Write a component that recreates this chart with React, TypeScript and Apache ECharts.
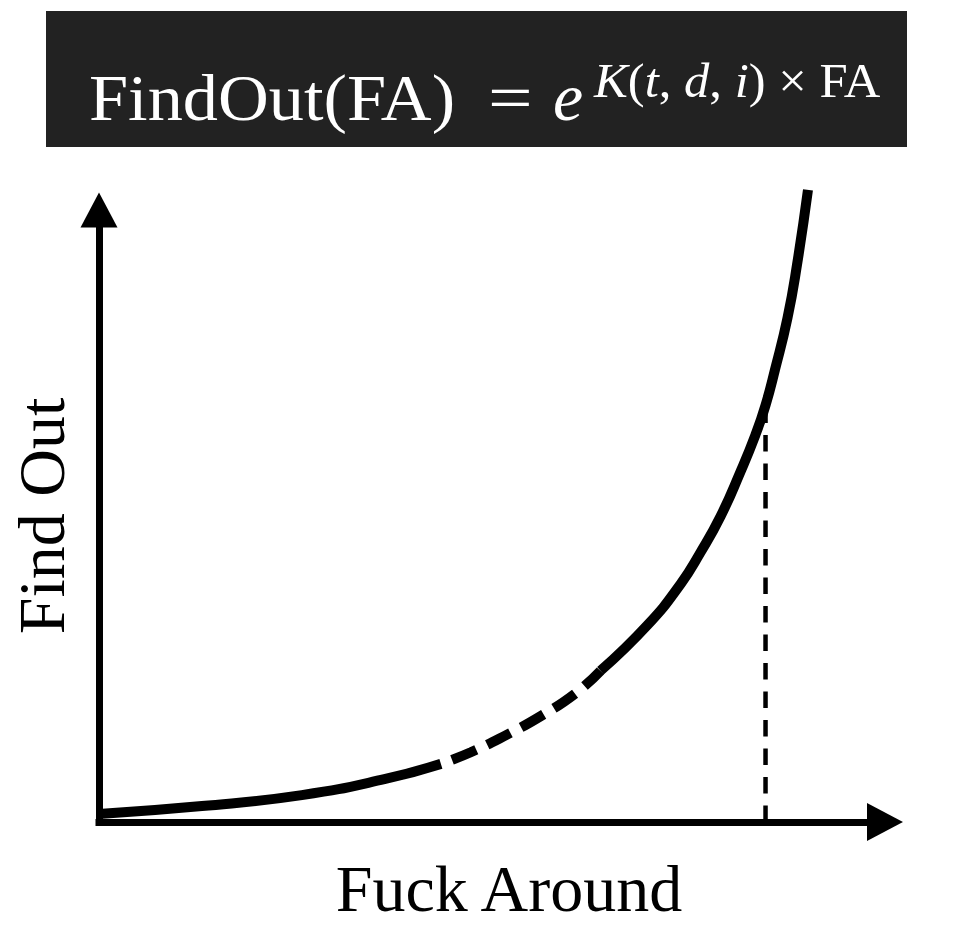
import React, { useEffect, useRef } from "react";
import * as echarts from "echarts";

// Curve (x: "Fuck Around" 0..100, y: "Find Out" 0..100)
const curveSolidStart: number[][] = [
  [0, 1.3], [13.1, 2.6], [25.8, 4.4], [36.3, 7.0], [43.5, 9.5],
];
const curveDashed: number[][] = [
  [43.5, 9.5], [47.3, 11.4], [51.8, 14.2], [56.2, 17.3], [60.7, 21.1], [63.8, 24.7],
];
const curveSolidEnd: number[][] = [
  [63.8, 24.7], [69.8, 32.2], [74.0, 38.9], [76.5, 44.0], [79.1, 50.0], [81.6, 57.2],
  [83.5, 63.2], [84.8, 68.1], [86.0, 73.9], [87.6, 82.4], [88.8, 91.0], [90.2, 103.3],
];
const markerX = 84.8;
const markerTop = 68.6;
const dropLine: number[][] = [[markerX, 0], [markerX, markerTop]];

const xName = "Fuck Around";
const yName = "Find Out";
const titleMain = "FindOut(FA)";
const titleEq = "=";
const titleBase = "e";

const SERIF = "'Liberation Serif', 'Times New Roman', serif";

export default function App() {
  const ref = useRef<HTMLDivElement>(null);
  useEffect(() => {
    if (!ref.current) return;
    const chart = echarts.init(ref.current, undefined, { renderer: "svg" });
    const curveLine = (data: number[][], type: any, extra: any = {}) => ({
      type: "line",
      data,
      smooth: 0.5,
      showSymbol: false,
      symbol: "none",
      clip: false,
      z: 5,
      lineStyle: { color: "#000", width: 10, type, cap: "butt", ...extra },
      silent: true,
    });
    chart.setOption({
      animation: false,
      backgroundColor: "#fff",
      grid: { left: 97, top: 210, right: 70, bottom: 126, containLabel: false },
      xAxis: {
        type: "value",
        min: 0,
        max: 100,
        name: xName,
        nameLocation: "middle",
        nameGap: 33,
        nameTextStyle: { fontFamily: SERIF, fontSize: 66, color: "#000", padding: [0, 0, 0, 34] },
        axisLine: {
          show: true,
          symbol: ["none", "triangle"],
          symbolSize: [38, 36],
          lineStyle: { color: "#000", width: 7, cap: "square" },
        },
        axisTick: { show: false },
        axisLabel: { show: false },
        splitLine: { show: false },
      },
      yAxis: {
        type: "value",
        min: 0,
        max: 100,
        name: yName,
        nameLocation: "middle",
        nameGap: 25,
        nameTextStyle: { fontFamily: SERIF, fontSize: 66, color: "#000" },
        axisLine: {
          show: true,
          symbol: ["none", "triangle"],
          symbolSize: [37, 35],
          lineStyle: { color: "#000", width: 7, cap: "square" },
        },
        axisTick: { show: false },
        axisLabel: { show: false },
        splitLine: { show: false },
      },
      series: [
        {
          type: "line",
          data: dropLine,
          showSymbol: false,
          symbol: "none",
          z: 3,
          silent: true,
          lineStyle: { color: "#000", width: 4.5, type: [16.5, 12] },
        },
        curveLine(curveSolidStart, "solid"),
        curveLine(curveDashed, [26, 12], { dashOffset: 26 }),
        curveLine(curveSolidEnd, "solid"),
      ],
      graphic: [
        {
          type: "rect",
          shape: { x: 46, y: 11, width: 861, height: 136 },
          style: { fill: "#222" },
          z: 1,
        },
        {
          type: "text",
          x: 89,
          y: 98,
          scaleX: 1.066,
          z: 2,
          style: {
            text: titleMain,
            fontFamily: SERIF,
            fontSize: 66,
            fill: "#fff",
            align: "left",
            verticalAlign: "middle",
          },
        },
        {
          type: "text",
          x: 488,
          y: 98,
          scaleX: 1.2,
          z: 2,
          style: {
            text: titleEq,
            fontFamily: SERIF,
            fontSize: 66,
            fill: "#fff",
            align: "left",
            verticalAlign: "middle",
          },
        },
        {
          type: "text",
          x: 553,
          y: 97,
          z: 2,
          style: {
            text: titleBase,
            fontFamily: SERIF,
            fontStyle: "italic",
            fontSize: 68,
            fill: "#fff",
            align: "left",
            verticalAlign: "middle",
          },
        },
        {
          type: "text",
          x: 594,
          y: 81,
          scaleX: 1.055,
          z: 2,
          style: {
            text: "{i|K}{r|(}{i|t}{r|, }{i|d}{r|, }{i|i}{r|) × FA}",
            fill: "#fff",
            align: "left",
            verticalAlign: "middle",
            rich: {
              i: { fontFamily: SERIF, fontStyle: "italic", fontSize: 48, fill: "#fff", color: "#fff" },
              r: { fontFamily: SERIF, fontSize: 48, fill: "#fff", color: "#fff" },
            },
          },
        },
      ],
    });
    return () => chart.dispose();
  }, []);
  return (
    <div
      ref={ref}
      style={{ position: "fixed", left: 0, top: 0, width: 955, height: 948 }}
    />
  );
}
